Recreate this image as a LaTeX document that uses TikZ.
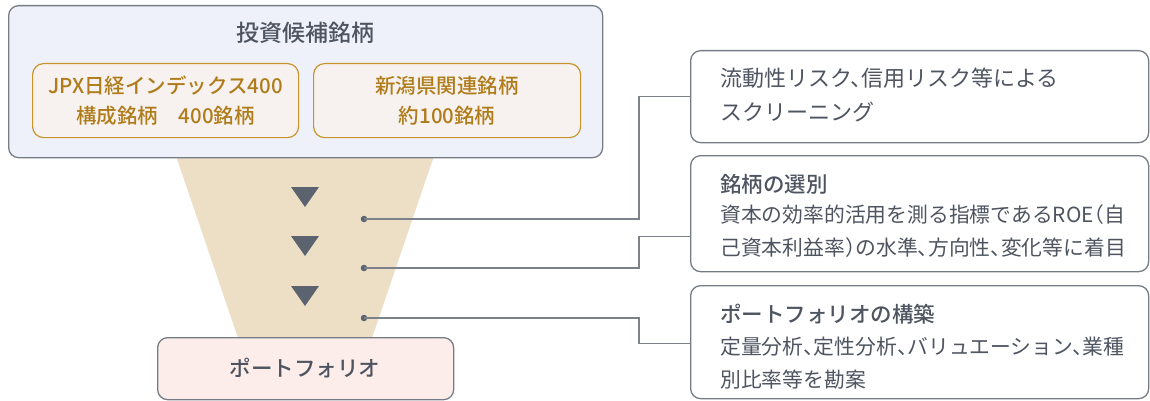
\documentclass[tikz,border=0pt]{standalone}
\usepackage{fontspec}
\setmainfont{Noto Sans CJK JP}[BoldFont={* Medium}]
\newfontfamily\halffont{Noto Sans CJK JP}[RawFeature=+halt]
\definecolor{txt}{HTML}{4E5561}
\definecolor{bordergray}{HTML}{767C86}
\definecolor{topfill}{HTML}{EEF1F9}
\definecolor{goldline}{HTML}{C8942C}
\definecolor{goldtext}{HTML}{B07C1A}
\definecolor{goldfill}{HTML}{F7F2EF}
\definecolor{funnelc}{HTML}{EDDFC6}
\definecolor{pinkfill}{HTML}{FCEDEA}
\definecolor{tri}{HTML}{5B636E}
\definecolor{conncol}{HTML}{7C818A}
\tikzset{
  outerbox/.style={draw=bordergray, line width=1.3pt, rounded corners=10pt, inner sep=0pt, anchor=north west},
  goldbox/.style={draw=goldline, fill=goldfill, line width=1.2pt, rounded corners=11pt, inner sep=0pt, anchor=north west},
  dotnode/.style={circle, fill=tri, inner sep=0pt, minimum size=6.5pt},
  conn/.style={draw=conncol, line width=1.5pt},
  headtxt/.style={text=txt, font=\fontsize{21.5}{26}\selectfont\bfseries, inner sep=0pt},
  bodytxt/.style={text=txt, font=\halffont\fontsize{20.8}{32.5}\selectfont, inner sep=0pt, align=left, anchor=west},
  goldtxt/.style={text=goldtext, font=\fontsize{20.5}{30}\selectfont\bfseries, inner sep=0pt, align=center},
}
\begin{document}
\begin{tikzpicture}[x=1pt,y=-1pt]
\useasboundingbox (0,0) rectangle (1150,401);
% funnel
\fill[funnelc] (174,150) -- (436,150) -- (372,338) -- (238,338) -- cycle;
% top box
\node[outerbox, fill=topfill, minimum width=594pt, minimum height=152pt] (top) at (8,5) {};
\node[headtxt, font=\fontsize{23}{26}\selectfont\bfseries] (toptitle) at (305,33) {投資候補銘柄};
\node[goldbox, minimum width=266pt, minimum height=74pt] (g1) at (32,63) {};
\node[goldbox, minimum width=267pt, minimum height=74pt] (g2) at (313,63) {};
\node[goldtxt] (g1t) at (g1.center) {JPX日経インデックス400\\構成銘柄　400銘柄};
\node[goldtxt] (g2t) at (g2.center) {新潟県関連銘柄\\約100銘柄};
% bottom box
\node[outerbox, fill=pinkfill, minimum width=296pt, minimum height=62pt] (pf) at (157,337) {};
\node[headtxt] (pft) at (305,368) {ポートフォリオ};
% triangles
\fill[tri] (291,187) -- (319,187) -- (305,207) -- cycle;
\fill[tri] (291,236) -- (319,236) -- (305,256) -- cycle;
\fill[tri] (291,286) -- (319,286) -- (305,306) -- cycle;
% right boxes
\node[outerbox, fill=white, minimum width=458pt, minimum height=92pt] (b1) at (690,50) {};
\node[outerbox, fill=white, minimum width=458pt, minimum height=116pt] (b2) at (690,155) {};
\node[outerbox, fill=white, minimum width=458pt, minimum height=113pt] (b3) at (690,285) {};
\node[bodytxt, font=\halffont\fontsize{22}{34}\selectfont] (b1t) at (720,95) {流動性リスク、信用リスク等による\\スクリーニング};
\node[headtxt, anchor=west] (b2h) at (720,184) {銘柄の選別};
\node[bodytxt] (b2t) at (720,231) {資本の効率的活用を測る指標であるROE（自\\己資本利益率）の水準、方向性、変化等に着目};
\node[headtxt, anchor=west] (b3h) at (720,314) {ポートフォリオの構築};
\node[bodytxt] (b3t) at (720,363) {定量分析、定性分析、バリュエーション、業種\\別比率等を勘案};
% dots and connectors
\node[dotnode] (d1) at (364,219) {};
\node[dotnode] (d2) at (364,268) {};
\node[dotnode] (d3) at (364,318) {};
\draw[conn] (d1.center) -- (639,219) |- (b1.west);
\draw[conn] (d2.center) -- (639,268) |- ([yshift=-23pt]b2.west);
\draw[conn] (d3.center) -- (639,318) |- ([yshift=-1.5pt]b3.west);
\end{tikzpicture}
\end{document}
